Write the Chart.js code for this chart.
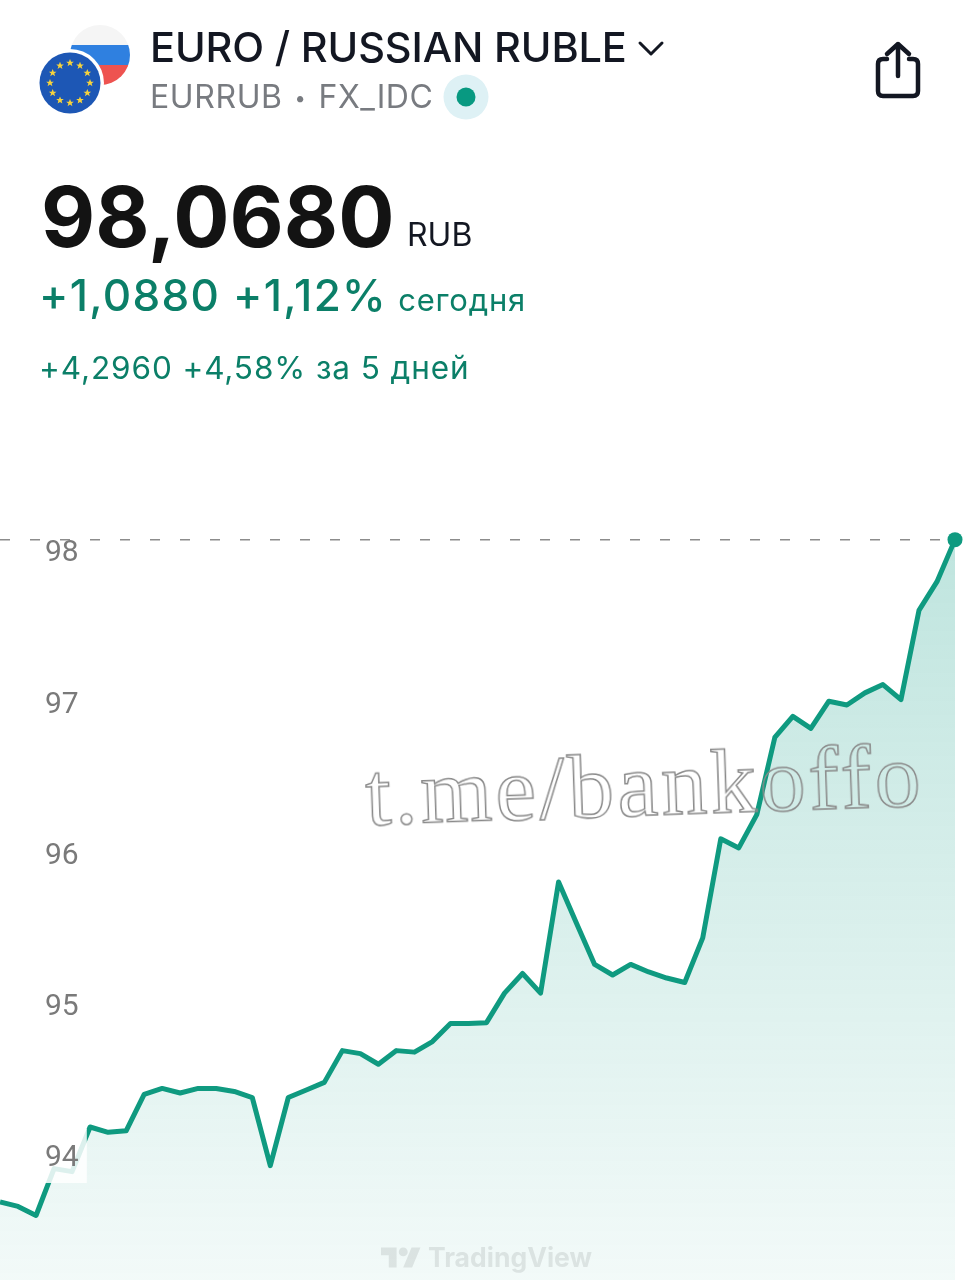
<!DOCTYPE html>
<html>
<head>
<meta charset="utf-8">
<title>EURRUB</title>
<script src="https://cdn.jsdelivr.net/npm/chart.js@4"></script>
<style>
html, body { margin: 0; padding: 0; background: #fff; }
body { position: relative; width: 973px; height: 1280px; overflow: hidden; font-family: Inter, sans-serif; }
#price-chart { position: absolute; left: 0; top: 0; }
.txt { position: absolute; white-space: nowrap; line-height: 1; }
svg { position: absolute; overflow: visible; }
#title { left: 150px; top: 27px; font-size: 41.5px; font-weight: 500; color: #131722; letter-spacing: -0.15px; }
#ticker { left: 150px; top: 81px; font-size: 32px; color: #787b80; letter-spacing: 0.6px; }
#ticker span { font-size: 20px; margin: 0 12px; vertical-align: 3px; }
#price { left: 41px; top: 175px; font-size: 83.5px; font-weight: 700; color: #131313; }
#currency { left: 407px; top: 219px; font-size: 32px; color: #131722; }
#today { left: 39px; top: 273px; font-size: 44px; font-weight: 500; color: #0b7f68; letter-spacing: 1.3px; }
#today span { font-size: 31px; font-weight: 400; letter-spacing: 0.8px; margin-left: -2px; }
#week { left: 39px; top: 352px; font-size: 31.5px; color: #0b7f68; letter-spacing: 0.9px; }
#watermark { left: 367px; top: 748px; font-family: "Liberation Serif", serif; font-size: 92px; color: rgba(255,255,255,0); -webkit-text-stroke: 1.5px #8a8a8a; letter-spacing: 3.2px; transform: rotate(-2deg); transform-origin: left bottom; }
#tv-name { left: 428px; top: 1244px; font-size: 26.5px; font-weight: 700; color: rgba(110,120,120,0.17); }
</style>
</head>
<body>
<canvas id="price-chart" width="973" height="1280"></canvas>

<svg style="left:0;top:0" width="973" height="300" viewBox="0 0 973 300">
  <defs>
    <clipPath id="ru-clip"><circle cx="100" cy="55" r="30"/></clipPath>
    <polygon id="star" points="0,-3.9 1.1,-1.2 3.8,-1.2 1.6,0.5 2.4,3.2 0,1.6 -2.4,3.2 -1.6,0.5 -3.8,-1.2 -1.1,-1.2" fill="#f7d33c"/>
  </defs>
  <g clip-path="url(#ru-clip)">
    <rect x="70" y="25" width="60" height="20" fill="#f5f5f5"/>
    <rect x="70" y="45" width="60" height="20" fill="#2f80e0"/>
    <rect x="70" y="65" width="60" height="20" fill="#ee5350"/>
  </g>
  <circle cx="70" cy="83" r="34" fill="#fff"/>
  <circle cx="70" cy="83" r="30.5" fill="#1d57b5"/>
  <g id="stars"></g>
  <polyline points="640,43 651,54 662,43" fill="none" stroke="#131722" stroke-width="3" stroke-linecap="round" stroke-linejoin="round"/>
  <circle cx="466" cy="97" r="22.5" fill="#def1f5"/>
  <circle cx="466" cy="97" r="9.5" fill="#089981"/>
  <g fill="none" stroke="#131722" stroke-width="4.5" stroke-linecap="round" stroke-linejoin="round">
    <path d="M887 59 H883 Q878 59 878 64 V91 Q878 96 883 96 H913 Q918 96 918 91 V64 Q918 59 913 59 H909"/>
    <path d="M898 76 V44 M887 54 L898 44 L909 54"/>
  </g>
</svg>

<div class="txt" id="title">EURO / RUSSIAN RUBLE</div>
<div class="txt" id="ticker">EURRUB<span>•</span>FX_IDC</div>
<div class="txt" id="price">98,0680</div>
<div class="txt" id="currency">RUB</div>
<div class="txt" id="today">+1,0880 +1,12% <span>сегодня</span></div>
<div class="txt" id="week">+4,2960 +4,58% за 5 дней</div>
<div class="txt" id="watermark">t.me/bankoffo</div>

<svg style="left:381px;top:1247px" width="40" height="22" viewBox="0 4 36 19">
  <path d="M14 22H7V11H0V4h14v18zM28 22h-8l7.5-18h8L28 22z" fill="rgba(110,120,120,0.17)"/>
  <circle cx="20" cy="8" r="4" fill="rgba(110,120,120,0.17)"/>
</svg>
<div class="txt" id="tv-name">TradingView</div>

<script>
const prices = [
    93.69, 93.66, 93.60, 93.91, 93.89, 94.185, 94.15, 94.16, 94.40, 94.44,
    94.41, 94.44, 94.44, 94.42, 94.38, 93.93, 94.38, 94.43, 94.48, 94.69,
    94.67, 94.60, 94.69, 94.68, 94.75, 94.87, 94.87, 94.875, 95.07, 95.20,
    95.07, 95.805, 95.53, 95.26, 95.19, 95.26, 95.21, 95.17, 95.14, 95.435,
    96.09, 96.03, 96.25, 96.76, 96.90, 96.82, 97.00, 96.975, 97.055, 97.11,
    97.01, 97.60, 97.79, 98.068
];
const lastPrice = 98.068;
const yTicks = [94, 95, 96, 97, 98];
const categories = prices.map((p, i) => i);

// eu flag stars
const stars = document.getElementById("stars");
for (let i = 0; i < 12; i++) {
    const a = i * Math.PI / 6;
    const star = document.createElementNS("http://www.w3.org/2000/svg", "use");
    star.setAttribute("href", "#star");
    star.setAttribute("x", 70 + 20 * Math.sin(a));
    star.setAttribute("y", 83 - 20 * Math.cos(a));
    stars.appendChild(star);
}

function areaFill(context) {
    const area = context.chart.chartArea;
    if (!area) return "transparent";
    const g = context.chart.ctx.createLinearGradient(0, 540, 0, area.bottom);
    g.addColorStop(0, "rgba(8, 153, 129, 0.26)");
    g.addColorStop(1, "rgba(8, 153, 129, 0.05)");
    return g;
}

new Chart(document.getElementById("price-chart").getContext("2d"), {
    type: "line",
    data: {
        labels: categories,
        datasets: [{
            label: "EURRUB",
            data: prices,
            borderColor: "#0f9a80",
            borderWidth: 5,
            borderJoinStyle: "round",
            tension: 0,
            fill: "start",
            backgroundColor: areaFill,
            clip: false,
            pointRadius: c => c.dataIndex === prices.length - 1 ? 7.5 : 0,
            pointBackgroundColor: "#0f9a80",
            pointBorderWidth: 0,
            order: 1
        }, {
            label: "Last",
            data: prices.map(() => lastPrice),
            borderColor: "#8c8c8c",
            borderWidth: 1.5,
            borderDash: [10, 20],
            pointRadius: 0,
            fill: false,
            order: 2
        }]
    },
    options: {
        responsive: false,
        animation: false,
        layout: { autoPadding: false, padding: { top: 500, right: 18, bottom: 0, left: 0 } },
        plugins: { legend: { display: false }, tooltip: { enabled: false } },
        scales: {
            x: {
                offset: false,
                grid: { display: false, drawTicks: false },
                border: { display: false },
                ticks: { display: false },
                afterFit: axis => { axis.height = 0; }
            },
            y: {
                min: 93.1736,
                max: 98.33,
                grid: { display: false, drawTicks: false },
                border: { display: false },
                afterBuildTicks: axis => { axis.ticks = yTicks.map(v => ({ value: v })); },
                afterFit: axis => { axis.width = 0; axis.paddingTop = 0; axis.paddingBottom = 0; },
                ticks: {
                    mirror: true,
                    padding: 45,
                    z: 1,
                    color: "#7a7a7a",
                    font: { family: "Roboto", size: 30, lineHeight: "8px" },
                    // empty first line pushes the number 4px down
                    callback: v => ["", String(v)],
                    showLabelBackdrop: c => c.tick.value === 94,
                    backdropColor: "rgba(255, 255, 255, 0.62)",
                    backdropPadding: { top: 14, bottom: 24, left: 6, right: 8 }
                }
            }
        }
    }
});
</script>
</body>
</html>
